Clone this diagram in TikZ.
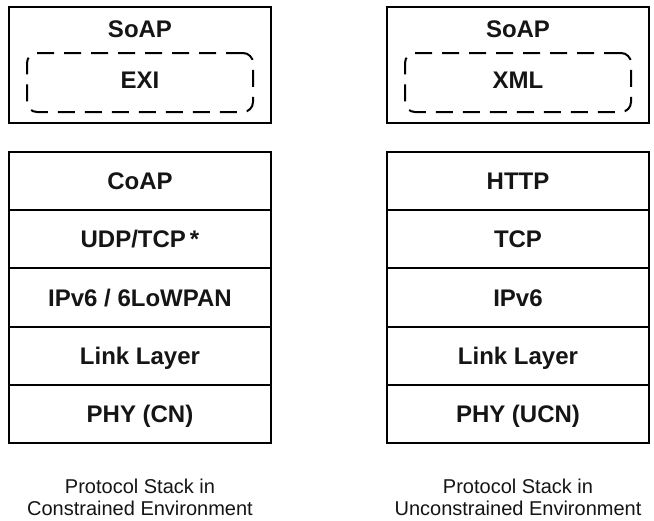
\documentclass[tikz,border=0pt]{standalone}
\usepackage{fontspec}
\setmainfont{Liberation Sans}
\definecolor{ink}{HTML}{151515}
\tikzset{
  frame/.style={draw=black, line width=2pt, minimum width=262pt, inner sep=0pt},
  layerbox/.style={frame, minimum height=58.2pt, font=\fontsize{24}{28}\selectfont\bfseries,
    text=ink, text height=17.2pt, text depth=0pt},
  encbox/.style={draw=black, line width=2pt, rounded corners=10pt, dash pattern=on 17pt off 10pt,
    minimum width=226pt, minimum height=59pt, inner sep=0pt},
  tag/.style={font=\fontsize{24}{28}\selectfont\bfseries, text=ink, inner sep=0pt,
    text height=17.2pt, text depth=0pt},
  caption/.style={font=\fontsize{20}{22}\selectfont, text=ink, inner sep=0pt, anchor=base}
}
\begin{document}
\begin{tikzpicture}[x=1pt, y=-1pt]
\useasboundingbox[fill=white] (0,0) rectangle (654,520);

% ---- constrained stack ----
\node[frame, minimum height=116pt] (appL) at (140,65) {};
\node[tag] (soapL) at (140,28.5) {SoAP};
\node[encbox] (encL) at (140,82.5) {};
\node[tag] (exiL) at (140,80) {EXI};

\node[layerbox] (coapL) at (140,181.1) {CoAP};
\node[layerbox] (udpL)  at (140,239.3) {UDP/TCP\,*};
\node[layerbox] (ipL)   at (140,297.5) {IPv6 / 6LoWPAN};
\node[layerbox] (linkL) at (140,355.7) {Link Layer};
\node[layerbox] (phyL)  at (140,413.9) {PHY (CN)};

\node[caption] (capL1) at (140,493) {Protocol Stack in};
\node[caption] (capL2) at (140,515) {Constrained Environment};

% ---- unconstrained stack ----
\node[frame, minimum height=116pt] (appR) at (518,65) {};
\node[tag] (soapR) at (518,28.5) {SoAP};
\node[encbox] (encR) at (518,82.5) {};
\node[tag] (xmlR) at (518,80) {XML};

\node[layerbox] (httpR) at (518,181.1) {HTTP};
\node[layerbox] (tcpR)  at (518,239.3) {TCP};
\node[layerbox] (ipR)   at (518,297.5) {IPv6};
\node[layerbox] (linkR) at (518,355.7) {Link Layer};
\node[layerbox] (phyR)  at (518,413.9) {PHY (UCN)};

\node[caption] (capR1) at (518,493) {Protocol Stack in};
\node[caption] (capR2) at (518,515) {Unconstrained Environment};
\end{tikzpicture}
\end{document}
